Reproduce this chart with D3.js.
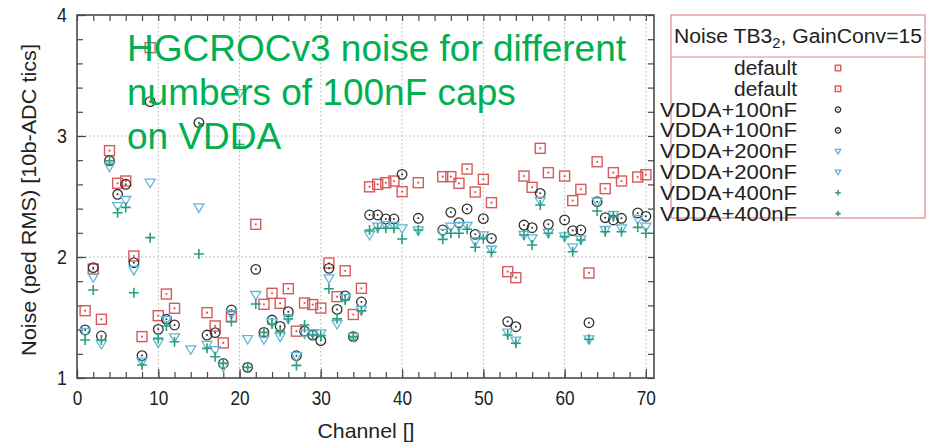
<!DOCTYPE html>
<html><head><meta charset="utf-8">
<script src="https://cdn.jsdelivr.net/npm/d3@7"></script>
<style>body{margin:0;background:#fff;}svg{display:block;font-family:"Liberation Sans",Arial,sans-serif;}</style>
</head><body>
<svg id="c" width="943" height="442"></svg>
<script>
const channels = d3.range(1, 71);
const vDefault = [1.556,1.90,1.485,2.879,2.609,2.628,2.008,1.342,3.73,1.515,1.694,1.576,null,null,null,1.54,1.43,1.29,1.507,null,null,2.27,1.609,1.70,1.617,1.738,1.387,1.62,1.607,1.578,1.95,1.672,1.886,1.525,1.741,2.58,2.60,2.614,2.628,2.54,null,2.614,null,null,2.664,2.664,2.609,2.727,2.537,2.642,2.449,null,1.879,1.829,2.669,2.576,2.898,2.697,null,2.669,2.466,2.559,1.868,2.787,2.565,2.697,2.628,null,2.661,2.68];
const v100 = [1.397,1.912,1.347,2.796,2.518,2.601,1.953,1.185,3.284,1.402,1.485,1.438,null,null,3.11,1.355,1.375,1.12,1.562,null,1.088,1.898,1.377,1.479,1.427,1.548,1.184,1.387,1.355,1.309,1.906,1.567,1.679,1.342,1.628,2.347,2.347,2.314,2.314,2.683,null,2.32,null,null,2.223,2.369,2.284,2.397,2.187,2.317,2.154,null,1.466,1.424,2.264,2.242,2.526,2.27,null,2.306,2.218,2.223,1.457,2.457,2.325,2.306,2.32,null,2.364,2.336];
const v200 = [1.38,1.832,1.281,2.747,2.421,2.471,1.893,1.135,2.614,1.292,1.479,1.336,null,1.237,2.41,1.273,1.231,1.094,1.53,3.355,1.322,1.686,1.32,1.46,1.342,1.493,1.18,1.369,1.37,1.369,1.824,1.446,1.66,1.34,1.562,2.182,2.251,2.264,2.26,2.237,null,2.22,null,null,2.2,2.251,2.256,2.256,2.13,2.179,2.06,null,1.375,1.309,2.182,2.154,2.463,2.2,null,2.17,2.08,2.146,1.32,2.457,2.223,2.347,2.237,null,2.314,2.251];
const v400 = [1.314,1.727,1.314,2.796,2.366,2.41,1.705,1.107,2.16,1.328,1.43,1.3,null,null,2.025,1.245,1.176,1.121,1.466,2.93,1.088,1.612,1.377,1.446,1.383,1.488,1.104,1.438,1.355,1.35,1.737,1.489,1.645,1.342,1.555,2.223,2.237,2.237,2.237,2.149,null,2.223,null,null,2.146,2.196,2.196,2.229,2.08,2.152,2.039,null,1.355,1.287,2.182,2.099,2.43,2.196,null,2.168,2.044,2.14,1.32,2.38,2.209,2.333,2.209,null,2.245,2.196];
const xTicks = [0,10,20,30,40,50,60,70];
const yTicks = [1,2,3,4];
const legendLabels = ["default","default","VDDA+100nF","VDDA+100nF","VDDA+200nF","VDDA+200nF","VDDA+400nF","VDDA+400nF"];
const legendKinds = ["sq","sq","ci","ci","tr","tr","pl","pl"];
const titleLines = ["HGCROCv3 noise for different","numbers of 100nF caps","on VDDA"];

const svg = d3.select("#c");
const L=77, R=654, T=15, B=378;
const x = d3.scaleLinear().domain([0,71]).range([L,R]);
const y = d3.scaleLinear().domain([1,4]).range([B,T]);
const frameC = "#4a4a4a";
const colors = {sq:"#d65a5a", ci:"#333333", tr:"#62b6d8", pl:"#2a9f7c"};

// grid
const grid = svg.append("g");
xTicks.filter(t=>t>0).forEach(t=>grid.append("line").attr("x1",x(t)).attr("x2",x(t)).attr("y1",T).attr("y2",B)
  .attr("stroke","#b0b0b0").attr("stroke-width",1).attr("stroke-dasharray","1.5,2.5"));
[2,3].forEach(t=>grid.append("line").attr("x1",L).attr("x2",R).attr("y1",y(t)).attr("y2",y(t))
  .attr("stroke","#b0b0b0").attr("stroke-width",1).attr("stroke-dasharray","1.5,2.5"));

// axes (ticks inward on all sides)
const xMinor = d3.range(0,71,2);
const yMinor = d3.range(1,4.01,0.2);
function styleAxis(g){ g.select(".domain").remove(); g.selectAll("line").attr("stroke",frameC).attr("stroke-width",1.2); }
svg.append("g").attr("transform",`translate(0,${B})`).call(d3.axisBottom(x).tickValues(xMinor).tickSize(-6).tickFormat("")).call(styleAxis);
svg.append("g").attr("transform",`translate(0,${T})`).call(d3.axisTop(x).tickValues(xMinor).tickSize(-6).tickFormat("")).call(styleAxis);
svg.append("g").attr("transform",`translate(${L},0)`).call(d3.axisLeft(y).tickValues(yMinor).tickSize(-6).tickFormat("")).call(styleAxis);
svg.append("g").attr("transform",`translate(${R},0)`).call(d3.axisRight(y).tickValues(yMinor).tickSize(-6).tickFormat("")).call(styleAxis);

const xa = svg.append("g").attr("transform",`translate(0,${B})`)
  .call(d3.axisBottom(x).tickValues(xTicks).tickSize(-9).tickPadding(12).tickFormat(d3.format("d")));
styleAxis(xa);
xa.selectAll("text").attr("font-size",21).attr("fill","#222").attr("font-family","Liberation Sans, Arial")
  .attr("transform","scale(0.82,1)");
const ya = svg.append("g").attr("transform",`translate(${L},0)`)
  .call(d3.axisLeft(y).tickValues(yTicks).tickSize(-9).tickPadding(12).tickFormat(d3.format("d")));
styleAxis(ya);
ya.selectAll("text").attr("font-size",21).attr("fill","#222").attr("font-family","Liberation Sans, Arial")
  .attr("transform","scale(0.85,1)");

// frame
svg.append("rect").attr("x",L).attr("y",T).attr("width",R-L).attr("height",B-T)
  .attr("fill","none").attr("stroke",frameC).attr("stroke-width",1.6);

// axis titles
svg.append("text").attr("x",366).attr("y",438).attr("text-anchor","middle").attr("font-size",21)
  .attr("fill","#222").attr("textLength",97).attr("lengthAdjust","spacingAndGlyphs").text("Channel []");
svg.append("text").attr("transform","translate(36,200) rotate(-90)").attr("text-anchor","middle").attr("font-size",20)
  .attr("fill","#222").attr("textLength",312).attr("lengthAdjust","spacingAndGlyphs").text("Noise (ped RMS) [10b-ADC tics]");

// markers
function drawMarker(g, kind, s){
  const c = colors[kind];
  if(kind==="sq"){
    g.append("rect").attr("x",-5*s).attr("y",-5*s).attr("width",10*s).attr("height",10*s).attr("fill","none").attr("stroke",c).attr("stroke-width",1.4);
    g.append("circle").attr("r",1.1*s).attr("fill",c);
  } else if(kind==="ci"){
    g.append("circle").attr("r",4.8*s).attr("fill","none").attr("stroke",c).attr("stroke-width",1.3);
    g.append("circle").attr("r",1.0*s).attr("fill",c);
  } else if(kind==="tr"){
    g.append("path").attr("d",`M${-5*s},${-3.5*s}L${5*s},${-3.5*s}L0,${5*s}Z`).attr("fill","none").attr("stroke",c).attr("stroke-width",1.3);
  } else {
    g.append("path").attr("d",`M${-5*s},0H${5*s}M0,${-5*s}V${5*s}`).attr("stroke",c).attr("stroke-width",1.6);
  }
}
const seriesList = [["sq",vDefault],["ci",v100],["tr",v200],["pl",v400]];
const pts = svg.append("g");
seriesList.forEach(([kind, vals])=>{
  channels.forEach((ch,i)=>{
    const v = vals[i];
    if(v==null || v>4 || v<1) return;
    drawMarker(pts.append("g").attr("transform",`translate(${x(ch)},${y(v)})`), kind, 1);
  });
});

// legend
const lg = svg.append("g");
lg.append("rect").attr("x",671).attr("y",15).attr("width",254).attr("height",203).attr("fill","#fff").attr("stroke","#e08a8a").attr("stroke-width",1.2);
lg.append("line").attr("x1",671).attr("x2",925).attr("y1",57).attr("y2",57).attr("stroke","#e08a8a").attr("stroke-width",1.2);
const tt = lg.append("text").attr("x",798).attr("y",43).attr("text-anchor","middle").attr("font-size",20).attr("fill","#222")
  .attr("textLength",248).attr("lengthAdjust","spacingAndGlyphs");
tt.append("tspan").text("Noise TB3");
tt.append("tspan").attr("dy",5).attr("font-size",14).text("2");
tt.append("tspan").attr("dy",-5).text(", GainConv=15");
legendLabels.forEach((lab,i)=>{
  const cy = 68 + 20.8*i;
  lg.append("text").attr("x",797).attr("y",cy+7).attr("text-anchor","end").attr("font-size",19.5).attr("fill","#222")
    .attr("textLength", lab==="default" ? 63 : 137).attr("lengthAdjust","spacingAndGlyphs")
    .text(lab);
  drawMarker(lg.append("g").attr("transform",`translate(838,${cy})`), legendKinds[i], 0.55);
});

// overlay title
const ttl = svg.append("g");
titleLines.forEach((t,i)=>{
  ttl.append("text").attr("x",127).attr("y",61+44*i).attr("font-size",37).attr("fill","#00b050").text(t);
});
</script>
</body></html>
